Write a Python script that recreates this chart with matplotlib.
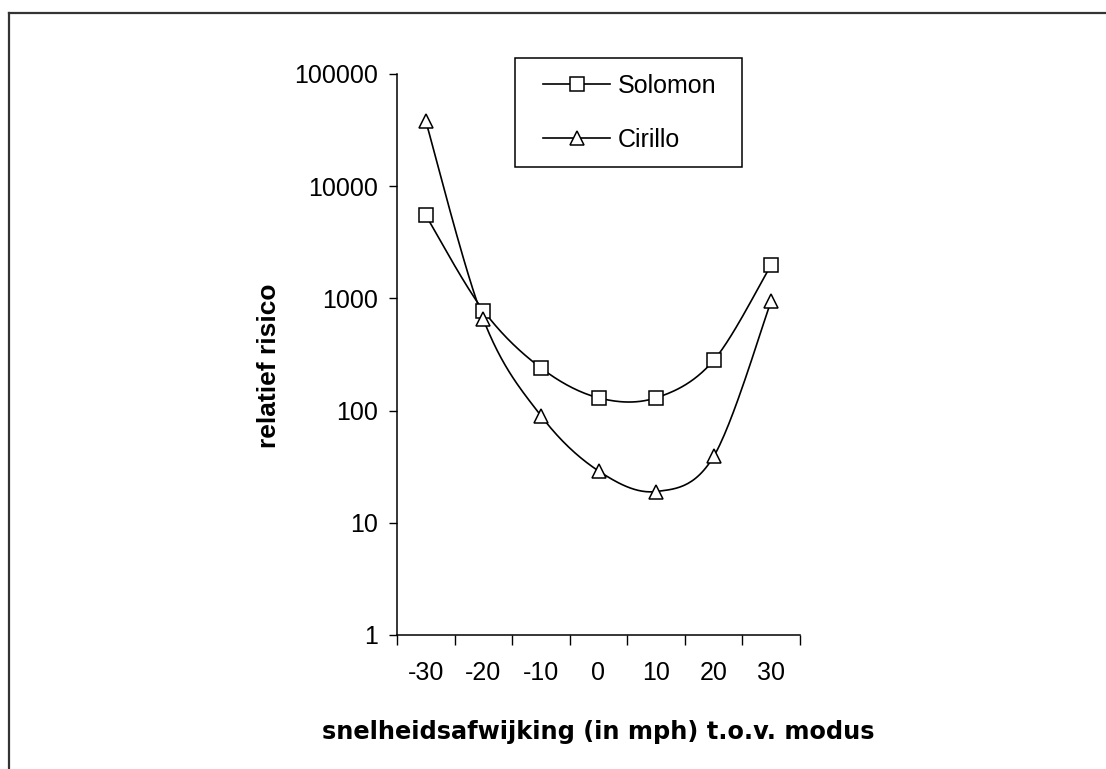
import numpy as np
import matplotlib
matplotlib.use('Agg')
import matplotlib.pyplot as plt
from matplotlib.lines import Line2D
from matplotlib.patches import Rectangle
from matplotlib.ticker import FixedLocator, FixedFormatter, NullLocator

plt.rcParams['font.family'] = ['Liberation Sans', 'DejaVu Sans']

categories = ['-30', '-20', '-10', '0', '10', '20', '30']
solomon = [5500, 780, 240, 130, 130, 280, 2000]
cirillo = [38000, 650, 90, 29, 19, 39, 950]
y_ticks = [1, 10, 100, 1000, 10000, 100000]
y_labels = ['1', '10', '100', '1000', '10000', '100000']


def smooth(xs, ys, steps=30):
    # bezier smoothing zoals in Excel, in log-ruimte
    px = np.asarray(xs, dtype=float)
    py = np.log10(np.asarray(ys, dtype=float))
    n = len(px)
    out_x, out_y = [], []
    for i in range(n - 1):
        i0 = max(i - 1, 0)
        i3 = min(i + 2, n - 1)
        c1x = px[i] + (px[i + 1] - px[i0]) / 6
        c1y = py[i] + (py[i + 1] - py[i0]) / 6
        c2x = px[i + 1] - (px[i3] - px[i]) / 6
        c2y = py[i + 1] - (py[i3] - py[i]) / 6
        t = np.linspace(0, 1, steps)
        a = (1 - t) ** 3
        b = 3 * (1 - t) ** 2 * t
        c = 3 * (1 - t) * t ** 2
        d = t ** 3
        out_x.extend(a * px[i] + b * c1x + c * c2x + d * px[i + 1])
        out_y.extend(a * py[i] + b * c1y + c * c2y + d * py[i + 1])
    return np.array(out_x), 10 ** np.array(out_y)


fig = plt.figure(figsize=(11.06, 7.69), dpi=100)
ax = fig.add_axes([397 / 1106, 134 / 769, 403 / 1106, 561 / 769])

x = np.arange(len(categories))
for name, values, marker, ms in [('Solomon', solomon, 's', 9.8),
                                 ('Cirillo', cirillo, '^', 10.5)]:
    sx, sy = smooth(x, values)
    ax.plot(sx, sy, color='black', lw=1.2, zorder=2)
    ax.plot(x, values, linestyle='none', marker=marker, ms=ms,
            mfc='white', mec='black', mew=1.1, zorder=3)

# legenda: zonder eigen kader, kader apart getekend
handles = [
    Line2D([], [], color='black', lw=1.2, marker='s', ms=9.8, mfc='white', mec='black', mew=1.1),
    Line2D([], [], color='black', lw=1.2, marker='^', ms=10.5, mfc='white', mec='black', mew=1.1),
]
ax.legend(handles, ['Solomon', 'Cirillo'], loc='upper left',
          bbox_to_anchor=(0.362, 1.0), borderaxespad=0, borderpad=0,
          fontsize=18, frameon=False, handlelength=2.7, handletextpad=0.3,
          labelspacing=1.2, numpoints=1)
ax.add_patch(Rectangle((0.2928, 0.8342), 0.5633, 0.1943, transform=ax.transAxes,
                       fill=False, edgecolor='black', lw=1.1, clip_on=False))

ax.set_yscale('log')
ax.set_ylim(1, 100000)
ax.set_xlim(-0.5, len(categories) - 0.5)

ax.yaxis.set_major_locator(FixedLocator(y_ticks))
ax.yaxis.set_major_formatter(FixedFormatter(y_labels))
ax.yaxis.set_minor_locator(NullLocator())
ax.tick_params(axis='y', which='major', direction='out', length=5.5, width=1,
               pad=8.5, labelsize=18)

ax.xaxis.set_major_locator(FixedLocator(np.arange(-0.5, len(categories), 1.0)))
ax.xaxis.set_major_formatter(FixedFormatter([''] * (len(categories) + 1)))
ax.xaxis.set_minor_locator(FixedLocator(x))
ax.xaxis.set_minor_formatter(FixedFormatter(categories))
ax.tick_params(axis='x', which='major', direction='out', length=7, width=1)
ax.tick_params(axis='x', which='minor', length=0, pad=19, labelsize=18)

for side in ['top', 'right']:
    ax.spines[side].set_visible(False)
for side in ['left', 'bottom']:
    ax.spines[side].set_linewidth(1.1)

ax.set_ylabel('relatief risico', fontsize=19, fontweight='bold')
ax.yaxis.set_label_coords(-0.289, 0.48)
ax.set_xlabel('snelheidsafwijking (in mph) t.o.v. modus', fontsize=17.3,
              fontweight='bold', family=['DejaVu Sans'])
ax.xaxis.set_label_coords(0.5, -0.152)

# rand om de figuur (alleen links en boven zichtbaar)
fig.add_artist(Line2D([9 / 1106, 9 / 1106], [0, 1 - 13 / 769], color='#333333', lw=1.6))
fig.add_artist(Line2D([9 / 1106, 1], [1 - 13 / 769, 1 - 13 / 769], color='#333333', lw=1.6))

fig.savefig('out.png', dpi=100)
plt.close(fig)
